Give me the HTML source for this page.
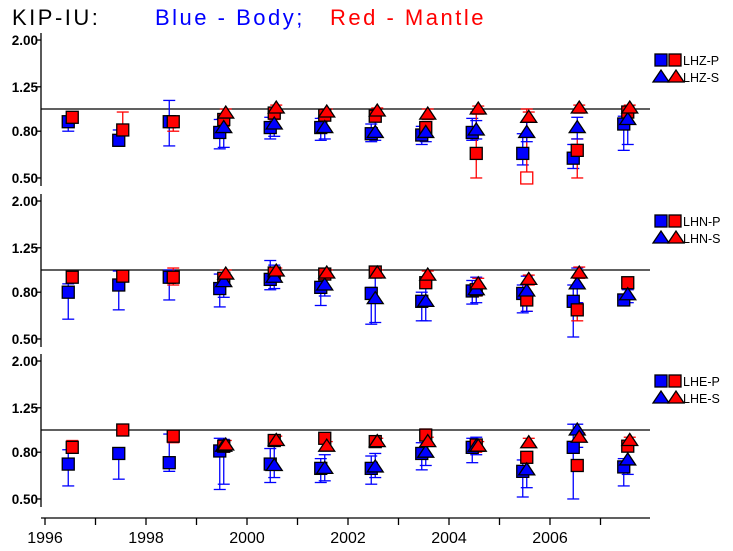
<!DOCTYPE html>
<html><head><meta charset="utf-8">
<style>
html,body{margin:0;padding:0;background:#fff;}
svg{display:block;font-family:"Liberation Sans",sans-serif;}
</style></head>
<body>
<svg id="chart" width="733" height="551" viewBox="0 0 733 551">
<text x="12" y="25" font-size="22" fill="#000" letter-spacing="2.5">KIP-IU:</text>
<text x="155" y="25" font-size="22" fill="#0000ff" letter-spacing="2.5" xml:space="preserve">Blue - Body;</text>
<text x="330" y="25" font-size="22" fill="#ff0000" letter-spacing="2.5" xml:space="preserve">Red - Mantle</text>
<g id="plots"></g>
</svg>
<script>
// x categories (year positions) shared by all panels
const years = [1996.5,1997.5,1998.5,1999.5,2000.5,2001.5,2002.5,2003.5,2004.5,2005.5,2006.5,2007.5];
const xTickYears = [1996,1997,1998,1999,2000,2001,2002,2003,2004,2005,2006,2007];
const xTickLabels = ["1996","","1998","","2000","","2002","","2004","","2006",""];
const yTicks = [0.5,0.8,1.25,2.0];
const yTickLabels = ["0.50","0.80","1.25","2.00"];
const panelNames = ["LHZ","LHN","LHE"];

// LHZ
const lhzBodyP   = [0.88,0.73,0.88,0.79,0.83,0.83,0.78,0.77,0.79,0.64,0.61,0.86];
const lhzBodyPLo = [0.80,0.69,0.69,0.67,0.74,0.73,0.72,0.70,0.73,0.57,0.55,0.66];
const lhzBodyPHi = [0.92,0.81,1.09,0.90,0.92,0.91,0.86,0.84,0.91,0.78,0.70,0.93];
const lhzMantleP   = [0.92,0.81,0.88,0.90,0.96,0.94,0.93,0.83,0.64,0.50,0.66,0.97];
const lhzMantlePLo = [0.88,0.78,0.80,0.84,0.90,0.90,0.88,0.76,0.50,0.49,0.50,0.92];
const lhzMantlePHi = [0.94,0.97,0.92,0.95,1.00,0.98,0.98,0.88,0.97,1.00,0.74,1.02];
const lhzMantlePOpen = [0,0,0,0,0,0,0,0,0,1,0,0];
const lhzBodyS   = [null,null,null,0.83,0.86,0.83,0.79,0.79,0.81,0.79,0.83,0.90];
const lhzBodySLo = [null,null,null,0.68,0.76,0.74,0.73,0.72,0.74,0.72,0.74,0.70];
const lhzBodySHi = [null,null,null,0.92,0.96,0.93,0.88,0.86,0.89,0.88,0.92,0.98];
const lhzMantleS   = [null,null,null,0.96,1.01,0.97,0.98,0.95,1.00,0.92,1.01,1.01];
const lhzMantleSLo = [null,null,null,0.92,0.96,0.93,0.94,0.90,0.95,0.88,0.96,0.96];
const lhzMantleSHi = [null,null,null,1.00,1.04,1.00,1.01,1.00,1.03,0.97,1.04,1.04];
// LHN
const lhnBodyP   = [0.80,0.86,0.93,0.83,0.91,0.84,0.79,0.73,0.81,0.79,0.73,0.74];
const lhnBodyPLo = [0.61,0.67,0.74,0.69,0.82,0.70,0.58,0.60,0.71,0.65,0.51,0.71];
const lhnBodyPHi = [0.87,0.99,1.00,0.96,1.10,0.88,0.84,0.80,0.90,0.86,0.86,0.78];
const lhnMantleP   = [0.93,0.94,0.93,0.92,0.97,0.96,0.98,0.88,0.82,0.74,0.67,0.88];
const lhnMantlePLo = [0.90,0.91,0.86,0.88,0.93,0.92,0.94,0.84,0.77,0.66,0.60,0.85];
const lhnMantlePHi = [0.96,0.97,1.02,0.96,1.01,0.99,1.00,0.92,0.86,0.80,0.72,0.91];
const lhnMantlePOpen = [0,0,0,0,0,0,0,0,0,0,0,0];
const lhnBodyS   = [null,null,null,0.89,0.93,0.86,0.75,0.73,0.82,0.81,0.87,0.78];
const lhnBodySLo = [null,null,null,0.76,0.83,0.77,0.59,0.60,0.72,0.66,0.72,0.72];
const lhnBodySHi = [null,null,null,0.96,1.05,0.92,0.97,0.84,0.93,0.94,1.02,0.82];
const lhnMantleS   = [null,null,null,0.96,0.99,0.97,0.97,0.95,0.87,0.91,0.97,null];
const lhnMantleSLo = [null,null,null,0.93,0.95,0.94,0.94,0.91,0.83,0.86,0.92,null];
const lhnMantleSHi = [null,null,null,1.00,1.02,1.00,1.00,0.99,0.92,0.95,1.03,null];
// LHE
const lheBodyP   = [0.71,0.79,0.72,0.81,0.71,0.68,0.68,0.79,0.84,0.66,0.84,0.69];
const lheBodyPLo = [0.57,0.61,0.66,0.55,0.59,0.59,0.58,0.67,0.72,0.51,0.50,0.57];
const lheBodyPHi = [0.82,0.81,0.96,0.92,0.83,0.75,0.77,0.88,0.92,0.74,1.06,0.75];
const lheMantleP   = [0.84,1.00,0.94,0.85,0.90,0.92,0.89,0.95,0.86,0.76,0.70,0.85];
const lheMantlePLo = [0.80,0.97,0.88,0.80,0.86,0.88,0.85,0.88,0.80,0.72,0.66,0.81];
const lheMantlePHi = [0.90,1.05,0.97,0.89,0.93,0.95,0.92,1.01,0.91,0.80,0.74,0.89];
const lheMantlePOpen = [0,0,0,0,0,0,0,0,0,0,0,0];
const lheBodyS   = [null,null,null,0.85,0.70,0.68,0.69,0.80,0.85,0.67,1.00,0.74];
const lheBodySLo = [null,null,null,0.58,0.62,0.60,0.62,0.70,0.78,0.56,0.84,0.64];
const lheBodySHi = [null,null,null,0.91,0.90,0.78,0.79,0.88,0.93,0.80,1.06,0.82];
const lheMantleS   = [null,null,null,0.86,0.90,0.85,0.89,0.89,0.85,0.88,0.93,0.90];
const lheMantleSLo = [null,null,null,0.82,0.86,0.82,0.86,0.85,0.81,0.84,0.89,0.86];
const lheMantleSHi = [null,null,null,0.90,0.94,0.89,0.92,0.93,0.89,0.92,0.97,0.93];

const panels = [
 {name:panelNames[0], top:0, bp:[lhzBodyP,lhzBodyPLo,lhzBodyPHi], mp:[lhzMantleP,lhzMantlePLo,lhzMantlePHi], open:lhzMantlePOpen, bs:[lhzBodyS,lhzBodySLo,lhzBodySHi], ms:[lhzMantleS,lhzMantleSLo,lhzMantleSHi]},
 {name:panelNames[1], top:161, bp:[lhnBodyP,lhnBodyPLo,lhnBodyPHi], mp:[lhnMantleP,lhnMantlePLo,lhnMantlePHi], open:lhnMantlePOpen, bs:[lhnBodyS,lhnBodySLo,lhnBodySHi], ms:[lhnMantleS,lhnMantleSLo,lhnMantleSHi]},
 {name:panelNames[2], top:321, bp:[lheBodyP,lheBodyPLo,lheBodyPHi], mp:[lheMantleP,lheMantlePLo,lheMantlePHi], open:lheMantlePOpen, bs:[lheBodyS,lheBodySLo,lheBodySHi], ms:[lheMantleS,lheMantleSLo,lheMantleSHi]}
];

const NS="http://www.w3.org/2000/svg";
const root=document.getElementById('plots');
function mk(tag,attrs,parent){const e=document.createElementNS(NS,tag);for(const k in attrs)e.setAttribute(k,attrs[k]);(parent||root).appendChild(e);return e;}
const xScale = yr => 45 + 50.5*(yr-1996);
const K = 99.5;
const yScale = (v,top) => 109 + top - K*Math.log(v);
const BLUE="#0000ff", RED="#ff0000";

// x axis
let ax=mk('line',{x1:41,y1:518,x2:650,y2:518,stroke:'#000','stroke-width':1.3});


xTickYears.forEach((yr,i)=>{
  const x=xScale(yr);
  const t=mk('line',{x1:x,y1:518,x2:x,y2:525,stroke:'#000','stroke-width':1.3});
  
  
  if(xTickLabels[i]){
    const l=mk('text',{x:x,y:543,'font-size':16,'text-anchor':'middle',fill:'#000'});
    l.textContent=xTickLabels[i];
    
    
  }
});

function errBar(g,x,lo,hi,top,color){
  const y1=yScale(lo,top), y2=yScale(hi,top);
  mk('line',{x1:x,y1:y1,x2:x,y2:y2,stroke:color,'stroke-width':1.3},g);
  mk('line',{x1:x-6,y1:y1,x2:x+6,y2:y1,stroke:color,'stroke-width':1.3},g);
  mk('line',{x1:x-6,y1:y2,x2:x+6,y2:y2,stroke:color,'stroke-width':1.3},g);
}
function square(g,x,y,color,open){
  mk('rect',{x:x-6,y:y-6,width:12,height:12,fill:open?'#fff':color,stroke:open?color:'#000','stroke-width':1.3},g);
}
function tri(g,x,y,color){
  mk('polygon',{points:`${x-8},${y+5} ${x},${y-7} ${x+8},${y+5}`,fill:color,stroke:'#000','stroke-width':1.3},g);
}

panels.forEach((p,pi)=>{
  const g=mk('g',{});
  
  
  const yt=yScale(2.0,p.top)-7, yb=yScale(0.5,p.top)+8;
  const ya=mk('line',{x1:41,y1:yt,x2:41,y2:yb,stroke:'#000','stroke-width':1.3},g);
  
  
  yTicks.forEach((v,i)=>{
    const y=yScale(v,p.top);
    mk('line',{x1:36,y1:y,x2:41,y2:y,stroke:'#000','stroke-width':1.3},g);
    const l=mk('text',{x:38,y:y+5,'font-size':13.5,'text-anchor':'end',fill:'#000','font-weight':'bold'},g);
    l.textContent=yTickLabels[i];
    
    
  });
  const ref=mk('line',{x1:41,y1:yScale(1,p.top),x2:650,y2:yScale(1,p.top),stroke:'#000','stroke-width':1.2},g);
  
  
  years.forEach((yr,i)=>{
    const x=xScale(yr);
    if(p.bp[0][i]!=null) errBar(g,x-2,p.bp[1][i],p.bp[2][i],p.top,BLUE);
    if(p.mp[0][i]!=null) errBar(g,x+2,p.mp[1][i],p.mp[2][i],p.top,RED);
    if(p.bs[0][i]!=null) errBar(g,x+2,p.bs[1][i],p.bs[2][i],p.top,BLUE);
    if(p.ms[0][i]!=null) errBar(g,x+4,p.ms[1][i],p.ms[2][i],p.top,RED);
  });
  years.forEach((yr,i)=>{
    const x=xScale(yr);
    if(p.bp[0][i]!=null){const m=mk('g',{},g);square(m,x-2,yScale(p.bp[0][i],p.top),BLUE,false);}
    if(p.mp[0][i]!=null){const m=mk('g',{},g);square(m,x+2,yScale(p.mp[0][i],p.top),RED,p.open[i]);}
    if(p.bs[0][i]!=null){const m=mk('g',{},g);tri(m,x+2,yScale(p.bs[0][i],p.top),BLUE);}
    if(p.ms[0][i]!=null){const m=mk('g',{},g);tri(m,x+4,yScale(p.ms[0][i],p.top),RED);}
  });
  const lg=mk('g',{},g);
  
  
  const ly=p.top+60;
  square(lg,661,ly,BLUE,false);
  square(lg,675,ly,RED,false);
  const t1=mk('text',{x:683,y:ly+5,'font-size':12.5,fill:'#000'},lg);
  t1.textContent=p.name+'-P';
  tri(lg,661,ly+17,BLUE);
  tri(lg,676,ly+17,RED);
  const t2=mk('text',{x:683,y:ly+22,'font-size':12.5,fill:'#000'},lg);
  t2.textContent=p.name+'-S';
});
</script>
</body></html>
